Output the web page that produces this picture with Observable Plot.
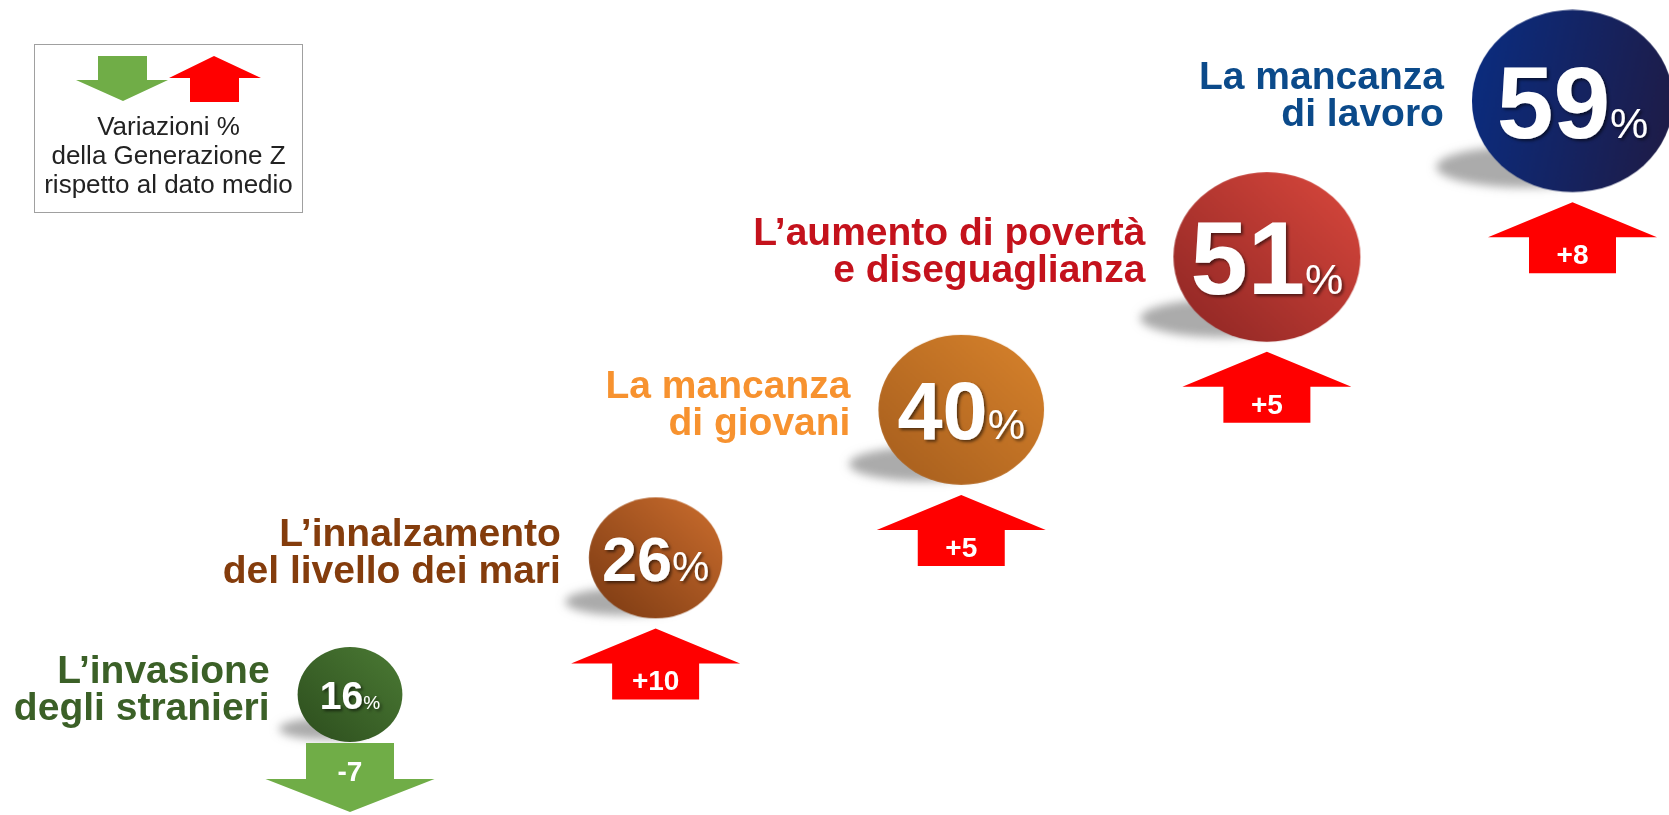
<!DOCTYPE html>
<html>
<head>
<meta charset="utf-8">
<script src="https://cdn.jsdelivr.net/npm/d3@7"></script>
<script src="https://cdn.jsdelivr.net/npm/@observablehq/plot@0.6"></script>
<style>
  html, body { margin: 0; padding: 0; background: #fff; overflow: hidden; }
  #wrap { position: relative; width: 1669px; height: 815px; font-family: "Liberation Sans", Arial, sans-serif; }
  #chart svg text { font-family: "Liberation Sans", Arial, sans-serif; }
  #legend { position: absolute; left: 34px; top: 44px; width: 269px; height: 169px; box-sizing: border-box;
            border: 1px solid #a0a0a0; background: #fff; }
  #legend svg { position: absolute; left: 0; top: 0; }
  #legend .txt { position: absolute; left: -10px; right: -10px; top: 67px; text-align: center; font-size: 26px;
                 line-height: 29px; color: #222; white-space: nowrap; font-family: "Liberation Sans", Arial, sans-serif; }
</style>
</head>
<body>
<div id="wrap">
  <div id="chart"></div>
  <div id="legend">
    <svg width="267" height="80">
      <polygon points="63,11 112,11 112,35 133,35 88,56 41,35 63,35" fill="#70AD47"></polygon>
      <polygon points="179,11 226,33 204,33 204,57 155,57 155,33 134,33" fill="#FF0000"></polygon>
    </svg>
    <div class="txt">Variazioni %<br>della Generazione Z<br>rispetto al dato medio</div>
  </div>
</div>
<script>
// ---- data ----
const categories = [
  "L’invasione\ndegli stranieri",
  "L’innalzamento\ndel livello dei mari",
  "La mancanza\ndi giovani",
  "L’aumento di povertà\ne diseguaglianza",
  "La mancanza\ndi lavoro"
];
const values = [16, 26, 40, 51, 59];
const deltas = [-7, 10, 5, 5, 8];
const deltaLabels = ["-7", "+10", "+5", "+5", "+8"];

// ---- styles ----
const FONT = "Liberation Sans, Arial, sans-serif";
const labelColors = ["#3B6027", "#843C0C", "#F7922F", "#C4121C", "#0B4A8A"];
const gradStops = [
  ["#2C4D1D", "#4B7A34"],
  ["#7A3912", "#CC6E2E"],
  ["#A55D1D", "#D8832C"],
  ["#8C2523", "#DA483D"],
  ["#0B2C7E", "#1E1C48"]
];
const gradDir = [
  [0, 1, 1, 0], [0, 1, 1, 0], [0, 1, 1, 0], [0, 1, 1, 0], [0, 0.4, 1, 0.6]
];
const numFont = [39, 63, 81, 103, 102];
const pctFont = [19, 42, 42, 43, 43];

const rows = categories.map((c, i) => ({
  i, category: c, value: values[i], delta: deltas[i], dlabel: deltaLabels[i]
}));

const NS = "http://www.w3.org/2000/svg";
const RX = 1.07, RY = 0.97;

// render helper: per-datum pixel shift depending on radius
function shiftRender(fn) {
  return function (index, scales, vals, dims, ctx, next) {
    const g = next(index, scales, vals, dims, ctx);
    const kids = Array.from(g.children);
    index.forEach((i, k) => {
      const el = kids[k];
      if (!el) return;
      const r = scales.r(rows[i].value);
      const [ox, oy] = fn(r, i);
      const t = el.getAttribute("transform") || "";
      el.setAttribute("transform", `translate(${ox},${oy}) ${t}`);
    });
    return g;
  };
}

function ellipseRender(sx, sy, ox, oy, extra) {
  return function (index, scales, vals, dims, ctx, next) {
    const g = next(index, scales, vals, dims, ctx);
    const kids = Array.from(g.querySelectorAll("circle"));
    index.forEach((i, k) => {
      const el = kids[k];
      if (!el) return;
      const cx = +el.getAttribute("cx"), cy = +el.getAttribute("cy"), r = +el.getAttribute("r");
      el.setAttribute("transform",
        `translate(${cx + ox * r},${cy + oy * r}) scale(${sx},${sy}) translate(${-cx},${-cy})`);
      if (extra) extra(el, i);
    });
    return g;
  };
}

const arrowUp = {
  draw(ctx, size) {
    const s = Math.sqrt(size / Math.PI);
    const t = RY * s + 10;
    ctx.moveTo(0, t);
    ctx.lineTo(84.5, t + 35);
    ctx.lineTo(43.5, t + 35);
    ctx.lineTo(43.5, t + 71);
    ctx.lineTo(-43.5, t + 71);
    ctx.lineTo(-43.5, t + 35);
    ctx.lineTo(-84.5, t + 35);
    ctx.closePath();
  }
};
const arrowDown = {
  draw(ctx, size) {
    const s = Math.sqrt(size / Math.PI);
    const t = RY * s + 1;
    ctx.moveTo(-44, t);
    ctx.lineTo(44, t);
    ctx.lineTo(44, t + 36);
    ctx.lineTo(84.5, t + 36);
    ctx.lineTo(0, t + 69);
    ctx.lineTo(-84.5, t + 36);
    ctx.lineTo(-44, t + 36);
    ctx.closePath();
  }
};

const chart = Plot.plot({
  width: 1669,
  height: 815,
  margin: 0,
  style: { fontFamily: FONT, background: "transparent" },
  x: { type: "linear", domain: [0, categories.length - 1], range: [349.5, 1572], axis: null },
  y: { type: "pow", exponent: 1.06, domain: [0, categories.length - 1], range: [694, 100.5], axis: null },
  r: { type: "sqrt", domain: [0, d3.max(values)], range: [0, 94] },
  color: { type: "identity" },
  marks: [
    // shadows
    Plot.dot(rows, {
      x: "i", y: "i", r: "value", fill: "#9c9c9c", fillOpacity: 0.85, stroke: "none",
      render: (index, scales, vals, dims, ctx, next) => {
        const g = ellipseRender(0.95, 0.22, -0.5, 0.7)(index, scales, vals, dims, ctx, next);
        g.setAttribute("filter", "url(#shblur)");
        return g;
      }
    }),
    // circles
    Plot.dot(rows, {
      x: "i", y: "i", r: "value", fill: "#888", stroke: "none",
      render: ellipseRender(RX, RY, 0, 0, (el, i) => el.setAttribute("fill", `url(#grad${i})`))
    }),
    // numbers
    Plot.text(rows, {
      x: "i", y: "i", text: d => String(d.value), fill: "white", fontWeight: "bold", fontFamily: FONT,
      render: (index, scales, vals, dims, ctx, next) => {
        const g = next(index, scales, vals, dims, ctx);
        const kids = Array.from(g.children);
        index.forEach((i, k) => {
          const el = kids[k];
          if (!el) return;
          el.textContent = "";
          el.setAttribute("font-size", numFont[i]);
          el.removeAttribute("dy");
          el.setAttribute("y", "0.36em");
          const t1 = document.createElementNS(NS, "tspan");
          t1.textContent = String(values[i]);
          const t2 = document.createElementNS(NS, "tspan");
          t2.setAttribute("font-size", pctFont[i]);
          t2.setAttribute("font-weight", "normal");
          t2.textContent = "%";
          el.appendChild(t1);
          el.appendChild(t2);
        });
        g.setAttribute("filter", "url(#numShadow)");
        return g;
      }
    }),
    // category labels
    Plot.text(rows, {
      x: "i", y: "i", text: "category", fill: d => labelColors[d.i], fontFamily: FONT,
      fontSize: 39, fontWeight: "bold", textAnchor: "end", lineAnchor: "middle", lineHeight: 0.95,
      render: shiftRender(r => [-(RX * r + 28), -5])
    }),
    // arrows
    Plot.dot(rows.filter(d => d.delta > 0), {
      x: "i", y: "i", r: "value", symbol: arrowUp, fill: "#FF0000", stroke: "none"
    }),
    Plot.dot(rows.filter(d => d.delta < 0), {
      x: "i", y: "i", r: "value", symbol: arrowDown, fill: "#70AD47", stroke: "none"
    }),
    // arrow labels
    Plot.text(rows, {
      x: "i", y: "i", text: "dlabel", fill: "white", fontSize: 28, fontWeight: "bold", fontFamily: FONT,
      render: shiftRender((r, i) => [0, deltas[i] > 0 ? RY * r + 10 + 53 : RY * r + 30])
    })
  ]
});

const svg = d3.select(chart);
const defs = svg.insert("defs", ":first-child");
gradStops.forEach((st, i) => {
  const [x1, y1, x2, y2] = gradDir[i];
  const lg = defs.append("linearGradient").attr("id", `grad${i}`)
    .attr("x1", x1).attr("y1", y1).attr("x2", x2).attr("y2", y2);
  lg.append("stop").attr("offset", "0%").attr("stop-color", st[0]);
  lg.append("stop").attr("offset", "100%").attr("stop-color", st[1]);
});
defs.append("filter").attr("id", "shblur").attr("x", "-50%").attr("y", "-50%").attr("width", "200%").attr("height", "200%")
  .append("feGaussianBlur").attr("stdDeviation", 5);
const ds = defs.append("filter").attr("id", "numShadow").attr("x", "-20%").attr("y", "-20%").attr("width", "140%").attr("height", "140%");
ds.append("feDropShadow").attr("dx", 2).attr("dy", 2).attr("stdDeviation", 1.5)
  .attr("flood-color", "#000").attr("flood-opacity", 0.55);

document.getElementById("chart").appendChild(chart);
</script>
</body>
</html>
